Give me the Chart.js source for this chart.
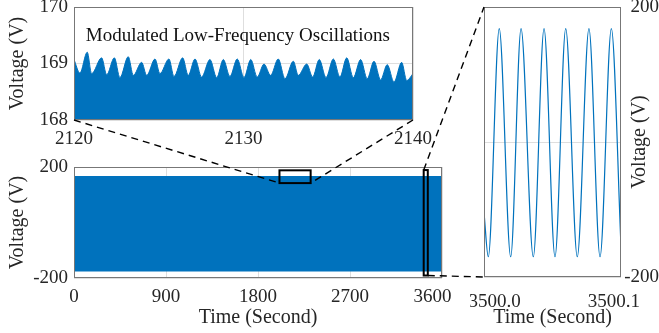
<!DOCTYPE html>
<html>
<head>
<meta charset="utf-8">
<script src="https://cdn.jsdelivr.net/npm/chart.js@4.4.1/dist/chart.umd.min.js"></script>
<style>
  html, body { margin: 0; padding: 0; background: #fff; }
  #wrap { position: relative; width: 659px; height: 333px; overflow: hidden; }
  #wrap canvas { position: absolute; }
</style>
</head>
<body>
<div id="wrap">
  <canvas id="zoomChart" style="left:0;top:0;width:440px;height:150px" width="440" height="150"></canvas>
  <canvas id="mainChart" style="left:0;top:150px;width:470px;height:183px" width="470" height="183"></canvas>
  <canvas id="waveChart" style="left:470px;top:0;width:189px;height:333px" width="189" height="333"></canvas>
  <canvas id="links" style="left:0;top:0;width:659px;height:333px;pointer-events:none" width="659" height="333"></canvas>
</div>
<script>
// zoomed window 2120-2140 s: peaks and dips of the voltage envelope
const zoomTimes = [2120.0, 2120.35, 2120.78, 2121.04, 2121.63, 2121.93, 2122.38, 2122.71, 2123.20, 2123.50,
  2123.99, 2124.29, 2124.78, 2125.07, 2125.60, 2125.90, 2126.41, 2126.74, 2127.14, 2127.53,
  2128.02, 2128.42, 2128.81, 2129.20, 2129.63, 2130.03, 2130.43, 2130.81, 2131.21, 2131.60,
  2132.05, 2132.45, 2132.94, 2133.23, 2133.73, 2134.08, 2134.47, 2134.87, 2135.30, 2135.69,
  2136.09, 2136.48, 2136.91, 2137.30, 2137.70, 2138.09, 2138.48, 2138.88, 2139.33, 2139.63, 2140.0];
const zoomVolts = [169.07, 168.83, 169.20, 168.82, 169.10, 168.80, 169.10, 168.75, 169.12, 168.79,
  169.02, 168.79, 169.08, 168.82, 169.08, 168.77, 169.10, 168.79, 169.08, 168.76,
  169.07, 168.75, 169.07, 168.77, 169.08, 168.75, 169.07, 168.76, 168.99, 168.79,
  169.08, 168.73, 169.04, 168.79, 168.99, 168.76, 169.07, 168.75, 169.08, 168.76,
  169.10, 168.75, 169.07, 168.73, 169.04, 168.71, 168.98, 168.67, 169.02, 168.70, 168.82];

// whole hour: the waveform fills a band between these limits
const mainTimes = [0, 3600];
const mainUpper = [168, 168];
const mainLower = [-177, -177];

// 3500.0 - 3500.1 s: peaks and troughs of the waveform
const waveTimes = [3499.9910, 3499.9946, 3500.0038, 3500.0134, 3500.0221, 3500.0324, 3500.0414,
  3500.0506, 3500.0596, 3500.0693, 3500.0791, 3500.0884, 3500.0979, 3500.1060];
const waveVolts = [-104, -170, 168, -170, 168, -170, 168, -170, 168, -170, 168, -170, 168, -155];

// tick labels
const zoomTicksX = [2120, 2130, 2140];
const zoomTicksY = [168, 169, 170];
const mainTicksX = [0, 900, 1800, 2700, 3600];
const voltTicks = [-200, 0, 200];
const waveTicksX = [3500.0, 3500.1];

// marker boxes on the main plot: [t0, t1, v0, v1]
const zoomBox = [2010, 2315, 142, 188];
const waveBox = [3421, 3461, -191, 189];

const blue = '#0072BD';
const textColor = '#262626';
const gridColor = '#dedede';
const frameColor = '#777';
const serif = 'Liberation Serif';

Chart.defaults.font.family = serif;
Chart.defaults.color = textColor;
Chart.defaults.animation = false;
Chart.defaults.responsive = false;
Chart.defaults.plugins.legend.display = false;
Chart.defaults.plugins.tooltip.enabled = false;

const tickFont = { family: serif, size: 19 };
const titleFont = { family: serif, size: 20 };

const pts = (xs, ys) => xs.map((x, i) => ({ x: x, y: ys[i] }));
const fixTicks = list => s => { s.ticks = list.map(v => ({ value: v })); };
const fit = (w, h) => s => {
  if (w != null) s.width = w;
  if (h != null) s.height = h;
  s.paddingLeft = 0; s.paddingRight = 0; s.paddingTop = 0; s.paddingBottom = 0;
};

// box around the plot area, drawn over the data like matlab does
const frame = {
  id: 'frame',
  afterDatasetsDraw(chart) {
    const a = chart.chartArea, ctx = chart.ctx;
    ctx.save();
    ctx.strokeStyle = frameColor;
    ctx.lineWidth = 1;
    ctx.strokeRect(Math.round(a.left) + 0.5, Math.round(a.top) + 0.5,
      Math.round(a.right - a.left) - 1, Math.round(a.bottom - a.top) - 1);
    ctx.restore();
  }
};

// zoomed inset
const zoomChart = new Chart(document.getElementById('zoomChart'), {
  type: 'line',
  data: {
    datasets: [{
      data: pts(zoomTimes, zoomVolts),
      borderColor: blue,
      backgroundColor: blue,
      borderWidth: 1,
      pointRadius: 0,
      cubicInterpolationMode: 'monotone',
      fill: 'start'
    }]
  },
  options: {
    layout: { padding: { top: 7, right: 27, left: 0, bottom: 0 } },
    scales: {
      x: {
        type: 'linear', min: 2120, max: 2140,
        afterBuildTicks: fixTicks(zoomTicksX),
        afterFit: fit(null, 30),
        ticks: { font: tickFont, padding: 8, maxRotation: 0, callback: v => String(v) },
        grid: { color: gridColor, drawTicks: false },
        border: { display: false }
      },
      y: {
        min: 168, max: 170,
        afterBuildTicks: fixTicks(zoomTicksY),
        afterFit: fit(74, null),
        ticks: { font: tickFont, padding: 6, callback: v => String(v) },
        grid: { color: gridColor, drawTicks: false },
        border: { display: false },
        title: { display: true, text: 'Voltage (V)', font: titleFont, padding: { top: 6, bottom: 0 } }
      }
    }
  },
  plugins: [frame, {
    id: 'note',
    afterDatasetsDraw(chart) {
      const ctx = chart.ctx;
      ctx.save();
      ctx.font = '19px "' + serif + '"';
      ctx.fillStyle = '#111';
      ctx.textAlign = 'left';
      ctx.textBaseline = 'middle';
      ctx.fillText('Modulated Low-Frequency Oscillations',
        chart.scales.x.getPixelForValue(2120.7), chart.scales.y.getPixelForValue(169.48));
      ctx.restore();
    }
  }]
});

// full hour
const mainChart = new Chart(document.getElementById('mainChart'), {
  type: 'line',
  data: {
    datasets: [{
      data: pts(mainTimes, mainUpper),
      borderWidth: 0,
      pointRadius: 0,
      backgroundColor: blue,
      fill: '+1'
    }, {
      data: pts(mainTimes, mainLower),
      borderWidth: 0,
      pointRadius: 0,
      fill: false
    }]
  },
  options: {
    layout: { padding: { top: 17, right: 28, left: 0, bottom: 0 } },
    scales: {
      x: {
        type: 'linear', min: 0, max: 3600,
        afterBuildTicks: fixTicks(mainTicksX),
        afterFit: fit(null, 55),
        // the last label sits a little inside the frame in the original
        ticks: { font: tickFont, padding: 8, maxRotation: 0, callback: v => v === 3600 ? '3600    ' : String(v) },
        grid: { color: gridColor, drawTicks: false },
        border: { display: false },
        title: { display: true, text: 'Time (Second)', font: titleFont, padding: { top: 0, bottom: 3 } }
      },
      y: {
        min: -200, max: 200,
        afterBuildTicks: fixTicks(voltTicks),
        afterFit: fit(74, null),
        ticks: { font: tickFont, padding: 6, callback: v => v === 0 ? '' : String(v) },
        grid: { color: gridColor, drawTicks: false },
        border: { display: false },
        title: { display: true, text: 'Voltage (V)', font: titleFont, padding: { top: 6, bottom: 0 } }
      }
    }
  },
  plugins: [frame, {
    id: 'boxes',
    afterDatasetsDraw(chart) {
      const ctx = chart.ctx, sx = chart.scales.x, sy = chart.scales.y;
      ctx.save();
      ctx.strokeStyle = '#000';
      ctx.lineWidth = 2;
      [zoomBox, waveBox].forEach(b => {
        const x0 = sx.getPixelForValue(b[0]), x1 = sx.getPixelForValue(b[1]);
        const y0 = sy.getPixelForValue(b[3]), y1 = sy.getPixelForValue(b[2]);
        ctx.strokeRect(x0, y0, x1 - x0, y1 - y0);
      });
      ctx.restore();
    }
  }]
});

// 0.1 s close-up
const waveChart = new Chart(document.getElementById('waveChart'), {
  type: 'line',
  data: {
    datasets: [{
      data: pts(waveTimes, waveVolts),
      borderColor: blue,
      borderWidth: 1.2,
      pointRadius: 0,
      cubicInterpolationMode: 'monotone',
      fill: false
    }]
  },
  options: {
    layout: { padding: { top: 7, right: 0, left: 14, bottom: 0 } },
    scales: {
      x: {
        type: 'linear', min: 3499.991, max: 3500.106,
        afterBuildTicks: fixTicks(waveTicksX),
        afterFit: fit(null, 56),
        ticks: { font: tickFont, padding: 6, maxRotation: 0, callback: v => v.toFixed(1) },
        grid: { display: false },
        border: { display: false },
        title: { display: true, text: 'Time (Second)', font: titleFont, padding: { top: 0, bottom: 3 } }
      },
      y: {
        position: 'right',
        min: -200, max: 200,
        afterBuildTicks: fixTicks(voltTicks),
        afterFit: fit(38, null),
        ticks: { font: tickFont, padding: 6, crossAlign: 'far', callback: v => v === 0 ? '' : String(v) },
        grid: { color: gridColor, drawTicks: false },
        border: { display: false }
      }
    }
  },
  plugins: [frame, {
    id: 'rightTitle',
    afterDraw(chart) {
      const ctx = chart.ctx, a = chart.chartArea;
      ctx.save();
      ctx.translate(170, (a.top + a.bottom) / 2);
      ctx.rotate(-Math.PI / 2);
      ctx.font = '20px "' + serif + '"';
      ctx.fillStyle = textColor;
      ctx.textAlign = 'center';
      ctx.textBaseline = 'middle';
      ctx.fillText('Voltage (V)', 0, 0);
      ctx.restore();
    }
  }]
});

// dashed leader lines between the panels
function drawLinks() {
  const ctx = document.getElementById('links').getContext('2d');
  const za = zoomChart.chartArea, wa = waveChart.chartArea;
  const mx = mainChart.scales.x, my = mainChart.scales.y;
  const mainTop = 150, waveLeft = 470;
  const seg = (x0, y0, x1, y1) => {
    ctx.beginPath(); ctx.moveTo(x0, y0); ctx.lineTo(x1, y1); ctx.stroke();
  };
  ctx.strokeStyle = '#000';
  ctx.lineWidth = 1.4;
  ctx.setLineDash([7, 5]);
  seg(za.left, za.bottom, mx.getPixelForValue(zoomBox[0]), mainTop + my.getPixelForValue(zoomBox[2]));
  seg(za.right, za.bottom, mx.getPixelForValue(zoomBox[1]), mainTop + my.getPixelForValue(zoomBox[2]));
  seg(mx.getPixelForValue(waveBox[0]), mainTop + my.getPixelForValue(waveBox[3]), waveLeft + wa.left, wa.top);
  seg(mx.getPixelForValue(waveBox[1]), mainTop + my.getPixelForValue(waveBox[2]), waveLeft + wa.left, wa.bottom);
}
drawLinks();
</script>
</body>
</html>
